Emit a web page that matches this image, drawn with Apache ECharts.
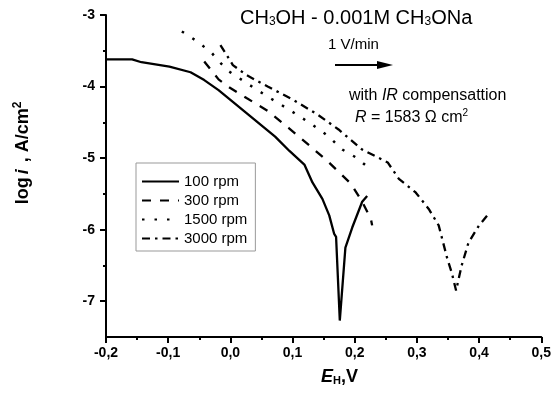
<!DOCTYPE html>
<html>
<head>
<meta charset="utf-8">
<script src="https://cdn.jsdelivr.net/npm/echarts@6/dist/echarts.min.js"></script>
<style>
  html, body { margin: 0; padding: 0; background: #fff; }
  #chart { width: 554px; height: 406px; }
</style>
</head>
<body>
<div id="chart"></div>
<script>
// rotation speeds
const names = ['100 rpm', '300 rpm', '1500 rpm', '3000 rpm']

// E_H, V  and  log i for each curve
const e100 = [-0.2, -0.158, -0.143, -0.098, -0.064, -0.042, -0.019, 0.026, 0.072, 0.095, 0.119, 0.132, 0.148, 0.159, 0.167, 0.170, 0.176, 0.185, 0.196, 0.212, 0.220]
const log100 = [-3.62, -3.62, -3.66, -3.72, -3.80, -3.91, -4.05, -4.37, -4.70, -4.90, -5.09, -5.34, -5.57, -5.80, -6.06, -6.10, -7.27, -6.25, -5.97, -5.61, -5.53]

const e300 = [-0.042, -0.019, -0.002, 0.026, 0.060, 0.094, 0.128, 0.156, 0.175, 0.194, 0.212, 0.226, 0.228]
const log300 = [-3.65, -3.90, -4.01, -4.16, -4.34, -4.58, -4.83, -5.04, -5.20, -5.36, -5.61, -5.85, -5.94]

const e1500 = [-0.078, -0.053, -0.030, -0.016, -0.002, 0.026, 0.060, 0.094, 0.128, 0.157, 0.180, 0.202, 0.226]
const log1500 = [-3.23, -3.37, -3.53, -3.67, -3.79, -3.95, -4.14, -4.32, -4.51, -4.69, -4.88, -4.99, -5.16]

const e3000 = [-0.016, -0.008, 0.004, 0.026, 0.060, 0.100, 0.140, 0.174, 0.212, 0.253, 0.271, 0.298, 0.319, 0.335, 0.349, 0.356, 0.363, 0.372, 0.383, 0.400, 0.417]
const log3000 = [-3.42, -3.53, -3.70, -3.84, -4.00, -4.18, -4.39, -4.60, -4.88, -5.06, -5.29, -5.48, -5.71, -5.94, -6.41, -6.60, -6.85, -6.50, -6.18, -5.94, -5.76]

// tick labels
const xTicks = [-0.2, -0.1, 0.0, 0.1, 0.2, 0.3, 0.4, 0.5]
const xMinorTicks = [-0.15, -0.05, 0.05, 0.15, 0.25, 0.35, 0.45]
const yTicks = [-7, -6, -5, -4, -3]
const yMinorTicks = [-6.5, -5.5, -4.5, -3.5]

const zip = (xs, ys) => xs.map((x, i) => [x, ys[i]])

const chart = echarts.init(document.getElementById('chart'))

const labelFont = { fontFamily: 'Liberation Sans', fontSize: 14, fontWeight: 'bold', color: '#000' }
const black = { color: '#000', width: 2 }

const lineSeries = (name, xs, ys, type, width) => ({
  name: name,
  type: 'line',
  data: zip(xs, ys),
  symbol: 'none',
  showSymbol: false,
  smooth: false,
  lineStyle: { color: '#000', width: width, type: type },
  itemStyle: { color: '#000' },
  z: 3
})

const option = {
  animation: false,
  backgroundColor: '#fff',
  grid: { left: 106, right: 11, top: 15, bottom: 69 },
  xAxis: [
    {
      type: 'value',
      min: -0.2,
      max: 0.5,
      axisLine: { onZero: false, lineStyle: black },
      axisTick: { length: 6, lineStyle: black, customValues: xTicks },
      splitLine: { show: false },
      axisLabel: {
        ...labelFont,
        margin: 9,
        customValues: xTicks,
        formatter: (v) => v.toFixed(1).replace('.', ',')
      }
    },
    {
      type: 'value',
      position: 'bottom',
      min: -0.2,
      max: 0.5,
      axisLine: { show: false, onZero: false },
      axisTick: { show: true, length: 3, lineStyle: black, customValues: xMinorTicks },
      splitLine: { show: false },
      axisLabel: { show: false }
    }
  ],
  yAxis: [
    {
      type: 'value',
      min: -7.5,
      max: -3,
      axisLine: { show: true, onZero: false, lineStyle: black },
      axisTick: { show: true, length: 6, lineStyle: black, customValues: yTicks },
      splitLine: { show: false },
      axisLabel: { ...labelFont, margin: 11, customValues: yTicks, formatter: (v) => String(v) }
    },
    {
      type: 'value',
      position: 'left',
      min: -7.5,
      max: -3,
      axisLine: { show: false, onZero: false },
      axisTick: { show: true, length: 3, lineStyle: black, customValues: yMinorTicks },
      splitLine: { show: false },
      axisLabel: { show: false }
    }
  ],
  legend: {
    orient: 'vertical',
    left: 136,
    top: 163,
    data: names,
    itemWidth: 37,
    itemHeight: 14,
    itemGap: 4,
    padding: [11, 8, 5, 5],
    borderColor: '#999',
    borderWidth: 1,
    borderRadius: 0,
    itemStyle: { opacity: 0 },
    textStyle: { fontFamily: 'Liberation Sans', fontSize: 15, color: '#000' }
  },
  series: [
    lineSeries(names[0], e100, log100, 'solid', 2.3),
    lineSeries(names[1], e300, log300, [9, 9], 2.3),
    lineSeries(names[2], e1500, log1500, [2.5, 10], 2.5),
    lineSeries(names[3], e3000, log3000, [8, 5, 2.5, 5], 2.3)
  ],
  graphic: [
    {
      type: 'text',
      left: 240,
      top: 8,
      style: {
        text: '{n|CH}{s|3}{n|OH - 0.001M CH}{s|3}{n|ONa}',
        rich: {
          n: { fontFamily: 'Liberation Sans', fontSize: 20, color: '#000', verticalAlign: 'bottom' },
          s: { fontFamily: 'Liberation Sans', fontSize: 12, color: '#000', verticalAlign: 'bottom', padding: [9, 0, 0, 0] }
        }
      }
    },
    {
      type: 'text',
      left: 328,
      top: 37,
      style: { text: '1 V/min', fontFamily: 'Liberation Sans', fontSize: 15, fill: '#000' }
    },
    {
      type: 'line',
      shape: { x1: 335, y1: 65, x2: 380, y2: 65 },
      style: { stroke: '#000', lineWidth: 2.2 }
    },
    {
      type: 'polygon',
      shape: { points: [[377, 61], [393, 65], [377, 69]] },
      style: { fill: '#000' }
    },
    {
      type: 'text',
      left: 349,
      top: 88,
      style: {
        text: '{n|with }{i|IR}{n| compensattion}',
        rich: {
          n: { fontFamily: 'Liberation Sans', fontSize: 16, color: '#000' },
          i: { fontFamily: 'Liberation Sans', fontSize: 16, fontStyle: 'italic', color: '#000' }
        }
      }
    },
    {
      type: 'text',
      left: 355,
      top: 108,
      style: {
        text: '{i|R}{n| = 1583 Ω cm}{p|2}',
        rich: {
          n: { fontFamily: 'Liberation Sans', fontSize: 16, color: '#000', verticalAlign: 'bottom' },
          i: { fontFamily: 'Liberation Sans', fontSize: 16, fontStyle: 'italic', color: '#000', verticalAlign: 'bottom' },
          p: { fontFamily: 'Liberation Sans', fontSize: 10, color: '#000', verticalAlign: 'top', padding: [0, 0, 8, 0] }
        }
      }
    },
    {
      type: 'text',
      x: 22,
      y: 153,
      rotation: Math.PI / 2,
      style: {
        text: '{n|log}{i|i}{n| , A/cm}{p|2}',
        align: 'center',
        verticalAlign: 'middle',
        rich: {
          n: { fontFamily: 'Liberation Sans', fontSize: 18, fontWeight: 'bold', color: '#000', verticalAlign: 'bottom' },
          i: { fontFamily: 'Liberation Sans', fontSize: 18, fontWeight: 'bold', fontStyle: 'italic', color: '#000', verticalAlign: 'bottom', padding: [0, 2, 0, 3] },
          p: { fontFamily: 'Liberation Sans', fontSize: 12, fontWeight: 'bold', color: '#000', verticalAlign: 'top', padding: [0, 0, 8, 0] }
        }
      }
    },
    {
      type: 'text',
      left: 321,
      top: 368,
      style: {
        text: '{i|E}{s|H}{n|,V}',
        rich: {
          i: { fontFamily: 'Liberation Sans', fontSize: 18, fontWeight: 'bold', fontStyle: 'italic', color: '#000', verticalAlign: 'bottom' },
          s: { fontFamily: 'Liberation Sans', fontSize: 11, fontWeight: 'bold', color: '#000', verticalAlign: 'bottom', padding: [8, 0, 0, 0] },
          n: { fontFamily: 'Liberation Sans', fontSize: 18, fontWeight: 'bold', color: '#000', verticalAlign: 'bottom' }
        }
      }
    }
  ]
}

chart.setOption(option)
</script>
</body>
</html>
